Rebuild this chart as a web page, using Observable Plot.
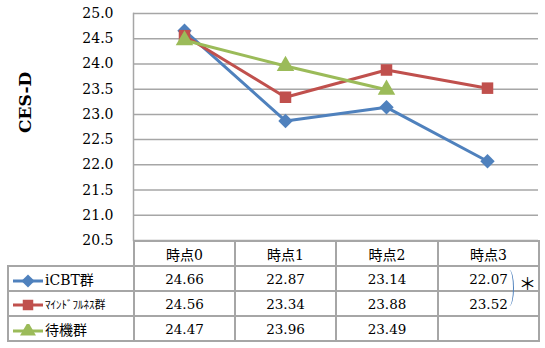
<!DOCTYPE html>
<html><head><meta charset="utf-8">
<script src="https://cdn.jsdelivr.net/npm/d3@7"></script>
<script src="https://cdn.jsdelivr.net/npm/@observablehq/plot@0.6"></script>
<style>
body{margin:0;background:#fff;font-family:"DejaVu Serif","Noto Sans CJK JP",serif;}
#wrap{position:relative;width:545px;height:348px;overflow:hidden;}
#chart{position:absolute;left:0;top:0;}
table{position:absolute;left:7px;top:240px;border-collapse:collapse;table-layout:fixed;}
td{border:2px solid #a6a6a6;height:23px;padding:0;text-align:center;font-size:13.5px;color:#000;}
td.blank{border:none;border-right:2px solid #a6a6a6;}
td.lab{text-align:left;padding-left:2px;font-size:14px;white-space:nowrap;}
td.lab svg{vertical-align:middle;}
td.hdr{font-size:14px;}
.small{font-size:11px;}
#brace{position:absolute;left:506px;top:270px;width:7px;height:36px;border-right:1.5px solid #4F81BD;border-radius:0 60% 60% 0/0 50% 50% 0;}
#star{position:absolute;left:519px;top:270px;font-size:17px;font-family:"Noto Sans CJK JP";}
</style></head>
<body>
<div id="wrap"><div id="chart"></div></div>
<script>
const times = ["時点0","時点1","時点2","時点3"];
const groups = ["iCBT群","ﾏｲﾝﾄﾞﾌﾙﾈｽ群","待機群"];
const icbt = [24.66,22.87,23.14,22.07];
const mindfulness = [24.56,23.34,23.88,23.52];
const waitlist = [24.47,23.96,23.49];
const yTicks = [20.5,21.0,21.5,22.0,22.5,23.0,23.5,24.0,24.5,25.0];
const colors = ["#4F81BD","#C0504D","#9BBB59"];
const symbols = ["diamond2","square","triangle"];
const yLabel = "CES-D";

const seriesVals = [icbt, mindfulness, waitlist];
const data = groups.flatMap((g,gi)=>seriesVals[gi].map((v,i)=>({group:g,time:times[i],value:v})));

const chart = Plot.plot({
  width:545, height:252,
  marginLeft:133, marginRight:7, marginTop:13, marginBottom:12,
  style:{fontFamily:'"DejaVu Serif",serif', background:"transparent"},
  x:{type:"point", domain:times, padding:0.5, axis:null},
  y:{domain:[20.5,25], axis:null},
  color:{domain:groups, range:colors},
  symbol:{domain:groups, range:symbols},
  marks:[
    Plot.ruleY(yTicks,{stroke:"#a6a6a6", strokeWidth:1.5}),
    Plot.frame({anchor:"left", stroke:"#a6a6a6", strokeWidth:1.5}),
    Plot.axisY(yTicks,{label:null, tickSize:0, tickPadding:20, tickFormat:d=>d.toFixed(1), fontSize:14, fill:"#000"}),
    Plot.line(data,{x:"time", y:"value", z:"group", stroke:"group", strokeWidth:3}),
    Plot.dot(data,{x:"time", y:"value", fill:"group", symbol:"group", r:6.5, stroke:"none"}),
    Plot.text([yLabel],{frameAnchor:"left", dx:-108, dy:6, rotate:-90, fontSize:17, fontWeight:"bold", fill:"#000"})
  ]
});
document.getElementById("chart").appendChild(chart);

// table below the chart
const wrap = document.getElementById("wrap");
const table = document.createElement("table");
const cols = [126,101,101,102,101];
const cg = document.createElement("colgroup");
cols.forEach(w=>{const c=document.createElement("col");c.style.width=w+"px";cg.appendChild(c);});
table.appendChild(cg);
const hr = table.insertRow();
const b = hr.insertCell(); b.className="blank";
times.forEach(t=>{const c=hr.insertCell();c.className="hdr";c.textContent=t;});
function swatch(i){
  const svg = d3.create("svg").attr("width",34).attr("height",14);
  svg.append("line").attr("x1",2).attr("x2",32).attr("y1",7).attr("y2",7).attr("stroke",colors[i]).attr("stroke-width",3);
  const sym = [d3.symbolDiamond2, d3.symbolSquare, d3.symbolTriangle][i];
  svg.append("path").attr("d",d3.symbol(sym,110)()).attr("transform","translate(17,7)").attr("fill",colors[i]);
  return svg.node();
}
groups.forEach((g,gi)=>{
  const r = table.insertRow();
  const l = r.insertCell(); l.className="lab";
  l.appendChild(swatch(gi));
  const sp = document.createElement("span");
  if (gi===1){ sp.className="small"; }
  sp.textContent = g;
  l.appendChild(sp);
  times.forEach((t,i)=>{const c=r.insertCell(); const v=seriesVals[gi][i]; c.textContent = v===undefined?"":v.toFixed(2);});
});
wrap.appendChild(table);
const brace = document.createElement("div"); brace.id="brace"; wrap.appendChild(brace);
const star = document.createElement("div"); star.id="star"; star.textContent="＊"; wrap.appendChild(star);
</script>
</body></html>
